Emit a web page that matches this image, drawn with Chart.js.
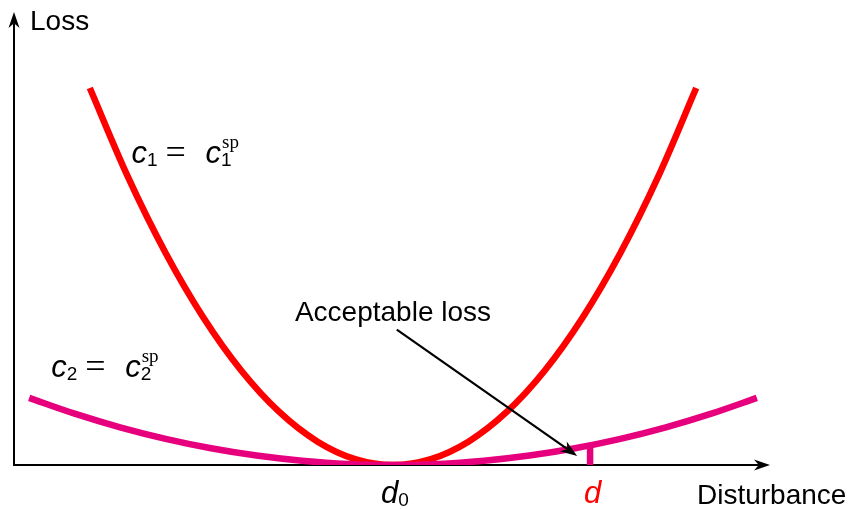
<!DOCTYPE html>
<html>
<head>
<meta charset="utf-8">
<script src="https://cdn.jsdelivr.net/npm/chart.js@4.4.1/dist/chart.umd.min.js"></script>
<style>
  html, body { margin: 0; padding: 0; background: #fff; }
  #wrap { width: 852px; height: 509px; }
</style>
</head>
<body>
<div id="wrap"><canvas id="lossChart"></canvas></div>
<script>
// disturbance axis: d0 sits at 0, the chosen set-point d a bit to the right
const d0 = 0;
const dSet = 2.6;

// steep loss curve (c1 = c1^sp)
const steepX = [-4, -3.5, -3, -2.5, -2, -1.5, -1, -0.5, 0, 0.5, 1, 1.5, 2, 2.5, 3, 3.5, 4];
const steepLoss = [16, 12.25, 9, 6.25, 4, 2.25, 1, 0.25, 0, 0.25, 1, 2.25, 4, 6.25, 9, 12.25, 16];

// flat loss curve (c2 = c2^sp)
const flatX = [-4.8, -4.2, -3.6, -3, -2.4, -1.8, -1.2, -0.6, 0, 0.6, 1.2, 1.8, 2.4, 3, 3.6, 4.2, 4.8];
const flatLoss = [2.85, 2.18, 1.6, 1.11, 0.71, 0.4, 0.18, 0.04, 0, 0.04, 0.18, 0.4, 0.71, 1.11, 1.6, 2.18, 2.85];

// acceptable loss at d on the flat curve
const acceptLoss = 0.84;

const RED = '#ff0000';
const MAGENTA = '#e6007e';
const SANS = '"Liberation Sans", Arial, sans-serif';
const SERIF = '"Liberation Serif", "Times New Roman", serif';
const ITALIC = 'italic 31px ' + SANS;
const SUB = '19px ' + SANS;

function pts(xs, ys) {
  return xs.map((x, i) => ({ x: x, y: ys[i] }));
}

function arrow(ctx, x1, y1, x2, y2, len, half, width) {
  const a = Math.atan2(y2 - y1, x2 - x1);
  const ux = Math.cos(a), uy = Math.sin(a);
  const nx = -uy, ny = ux;
  const bx = x2 - ux * len, by = y2 - uy * len;
  const mx = x2 - ux * len * 0.7, my = y2 - uy * len * 0.7;
  ctx.lineWidth = width;
  ctx.beginPath();
  ctx.moveTo(x1, y1);
  ctx.lineTo(mx, my);
  ctx.stroke();
  ctx.beginPath();
  ctx.moveTo(x2, y2);
  ctx.lineTo(bx + nx * half, by + ny * half);
  ctx.lineTo(mx, my);
  ctx.lineTo(bx - nx * half, by - ny * half);
  ctx.closePath();
  ctx.fill();
}

// italic symbol with a subscript tucked right after it; returns the x where the subscript starts
function symbolSub(ctx, sym, sub, x, y) {
  ctx.font = ITALIC;
  ctx.fillText(sym, x, y);
  const sx = x + ctx.measureText(sym).width;
  ctx.font = SUB;
  ctx.fillText(sub, sx, y + 3);
  return sx;
}

// c_i = c_i^sp with italic c, subscripts and a serif "sp"
function costLabel(ctx, x, y, idx) {
  ctx.textBaseline = 'alphabetic';
  ctx.textAlign = 'left';
  symbolSub(ctx, 'c', idx, x, y);
  ctx.font = '36px ' + SERIF;
  ctx.fillText('=', x + 34, y + 1);
  const sx = symbolSub(ctx, 'c', idx, x + 74, y);
  ctx.font = '19px ' + SERIF;
  ctx.fillText('sp', sx + 1, y - 15);
}

const axesPlugin = {
  id: 'axesPlugin',
  beforeDatasetsDraw(chart) {
    const ctx = chart.ctx;
    const xs = chart.scales.x, ys = chart.scales.y;
    const ox = xs.left, oy = ys.getPixelForValue(0);
    ctx.save();
    ctx.strokeStyle = '#000';
    ctx.fillStyle = '#000';
    ctx.lineCap = 'butt';
    arrow(ctx, ox, oy + 1, ox, ys.top + 4, 16, 5.5, 2);
    arrow(ctx, ox - 1, oy, xs.right - 2, oy, 16, 5.5, 2);
    ctx.restore();
  }
};

const labelPlugin = {
  id: 'labelPlugin',
  afterDatasetsDraw(chart) {
    const ctx = chart.ctx;
    const xs = chart.scales.x, ys = chart.scales.y;
    const px = v => xs.getPixelForValue(v);
    const py = v => ys.getPixelForValue(v);
    ctx.save();
    ctx.fillStyle = '#000';
    ctx.textBaseline = 'alphabetic';

    ctx.font = '28px ' + SANS;
    ctx.textAlign = 'left';
    ctx.fillText('Loss', xs.left + 16, ys.top + 22);
    ctx.fillText('Disturbance', 697, 504);

    // tick labels under the x axis
    symbolSub(ctx, 'd', '0', px(d0) - 12, 503);
    ctx.fillStyle = RED;
    ctx.font = ITALIC;
    ctx.fillText('d', px(dSet) - 6, 503);

    ctx.fillStyle = '#000';
    costLabel(ctx, px(-3.45), py(12.82), '1');
    costLabel(ctx, px(-4.51), py(3.74), '2');

    // acceptable loss callout
    ctx.font = '28px ' + SANS;
    ctx.textAlign = 'center';
    ctx.fillText('Acceptable loss', px(0), py(6.11));
    ctx.strokeStyle = '#000';
    arrow(ctx, px(0.05), py(5.75), px(2.43), py(0.38), 17, 6, 2.2);
    ctx.restore();
  }
};

new Chart(document.getElementById('lossChart'), {
  type: 'line',
  data: {
    datasets: [
      {
        label: 'd',
        data: pts([dSet, dSet], [0, acceptLoss]),
        borderColor: MAGENTA,
        borderWidth: 6.5,
        pointRadius: 0,
        borderCapStyle: 'butt',
        order: 0
      },
      {
        label: 'c2',
        data: pts(flatX, flatLoss),
        borderColor: MAGENTA,
        borderWidth: 6.5,
        pointRadius: 0,
        cubicInterpolationMode: 'monotone',
        borderCapStyle: 'butt',
        order: 1
      },
      {
        label: 'c1',
        data: pts(steepX, steepLoss),
        borderColor: RED,
        borderWidth: 6.5,
        pointRadius: 0,
        cubicInterpolationMode: 'monotone',
        borderCapStyle: 'butt',
        order: 2
      }
    ]
  },
  options: {
    responsive: true,
    maintainAspectRatio: false,
    animation: false,
    layout: { padding: { left: 14, right: 80, top: 8, bottom: 44 } },
    plugins: { legend: { display: false }, tooltip: { enabled: false } },
    scales: {
      x: { type: 'linear', min: -5, max: 5, display: false },
      y: { type: 'linear', min: 0, max: 19.4, display: false }
    }
  },
  plugins: [axesPlugin, labelPlugin]
});
</script>
</body>
</html>
